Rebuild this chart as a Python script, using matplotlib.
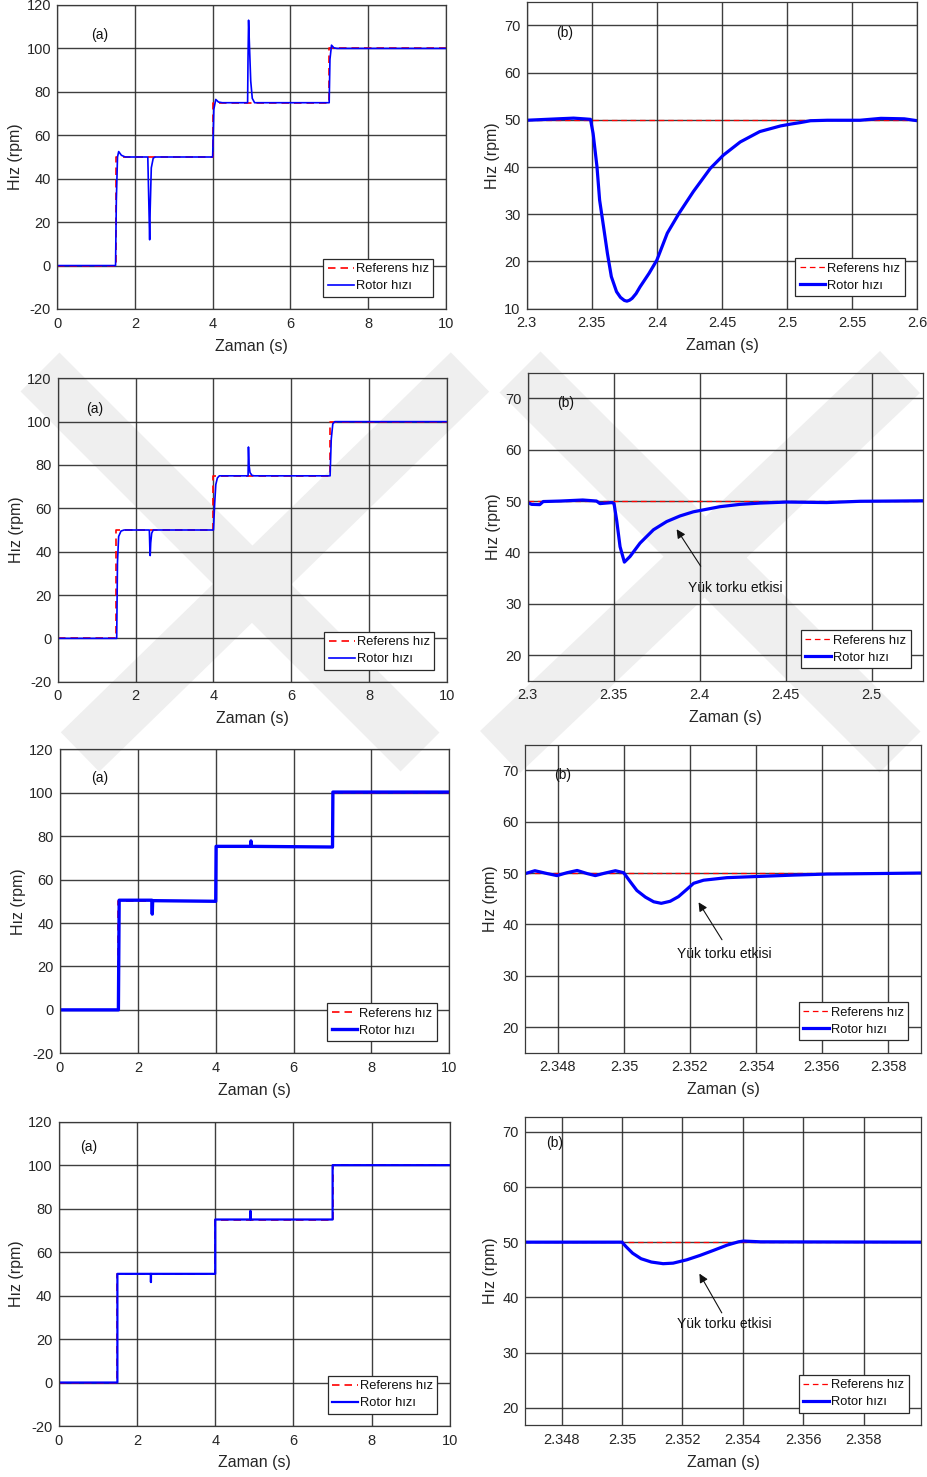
import matplotlib
matplotlib.use("Agg")
import matplotlib.pyplot as plt
import numpy as np
from matplotlib.patches import Polygon

plt.rcParams["font.family"] = ["Liberation Sans", "DejaVu Sans"]

# ---------------------------------------------------------------- data
# Reference speed profile (rpm), shared by all four full-run panels
ref_t = [0.0, 1.5, 1.5, 4.0, 4.0, 7.0, 7.0, 10.0]
ref_v = [0.0, 0.0, 50.0, 50.0, 75.0, 75.0, 100.0, 100.0]

# Row 1 - full run
r1a_t = [0.0, 1.50, 1.52, 1.55, 1.58, 1.65, 1.75, 2.33, 2.355, 2.378, 2.39, 2.42,
         2.47, 2.52, 4.00, 4.03, 4.08, 4.15, 4.25, 4.90, 4.91, 4.925, 4.95, 4.98,
         5.02, 5.08, 7.00, 7.02, 7.06, 7.12, 7.20, 10.0]
r1a_v = [0.0, 0.0, 30.0, 50.0, 52.5, 50.8, 50.0, 50.0, 30.0, 11.9, 25.0, 45.0,
         49.5, 50.0, 50.0, 72.0, 76.5, 75.3, 75.0, 75.0, 95.0, 113.0, 100.0, 85.0,
         77.0, 75.0, 75.0, 95.0, 101.5, 100.3, 100.0, 100.0]

# Row 1 - zoom on the load-torque disturbance
r1b_t = [2.300, 2.336, 2.349, 2.351, 2.354, 2.356, 2.359, 2.362, 2.365, 2.369,
         2.372, 2.375, 2.377, 2.379, 2.381, 2.384, 2.387, 2.394, 2.400, 2.408,
         2.417, 2.428, 2.441, 2.451, 2.464, 2.479, 2.495, 2.503, 2.510, 2.518,
         2.531, 2.556, 2.572, 2.590, 2.600]
r1b_v = [49.9, 50.35, 50.1, 47.1, 40.0, 33.0, 27.4, 21.7, 16.8, 13.6,
         12.4, 11.75, 11.6, 11.8, 12.2, 13.2, 14.6, 17.5, 20.3, 26.0,
         30.2, 34.8, 39.7, 42.5, 45.3, 47.5, 48.7, 49.1, 49.4, 49.8,
         49.9, 49.9, 50.3, 50.2, 49.8]

# Row 2
r2a_t = [0.0, 1.51, 1.53, 1.56, 1.62, 1.70, 2.35, 2.365, 2.372, 2.385, 2.41, 2.45,
         4.00, 4.03, 4.06, 4.10, 4.15, 4.89, 4.90, 4.915, 4.94, 4.99, 5.05,
         7.00, 7.03, 7.07, 7.12, 10.0]
r2a_v = [0.0, 0.0, 35.0, 47.0, 49.5, 50.0, 50.0, 40.0, 38.2, 44.0, 48.5, 50.0,
         50.0, 62.0, 71.0, 74.0, 75.0, 75.0, 88.3, 80.0, 76.5, 75.2, 75.0,
         75.0, 92.0, 99.0, 100.0, 100.0]

r2b_t = [2.3000, 2.3023, 2.3070, 2.3090, 2.3190, 2.3320, 2.3400, 2.3420, 2.3490,
         2.3502, 2.3517, 2.3537, 2.3562, 2.3595, 2.3653, 2.3731, 2.3808, 2.3886,
         2.3963, 2.4040, 2.4118, 2.4234, 2.4350, 2.4506, 2.4738, 2.4932, 2.5126,
         2.5300]
r2b_v = [49.7, 49.35, 49.3, 49.9, 50.0, 50.2, 50.0, 49.5, 49.7,
         49.5, 46.3, 41.1, 38.1, 39.2, 41.8, 44.4, 46.0, 47.1,
         47.9, 48.4, 48.9, 49.35, 49.6, 49.8, 49.7, 49.95, 50.0,
         50.05]

# Row 3
r3a_t = [0.0, 1.50, 1.52, 2.36, 2.37, 2.38, 4.00, 4.01, 4.90, 4.905, 4.91,
         7.00, 7.01, 10.0]
r3a_v = [0.0, 0.0, 50.5, 50.5, 44.1, 50.3, 50.0, 75.3, 75.3, 77.8, 75.3,
         75.0, 100.3, 100.3]

r3b_t = [2.34701, 2.34730, 2.34767, 2.34797, 2.34827, 2.34858, 2.34888, 2.34913,
         2.34943, 2.34974, 2.34999, 2.35019, 2.35039, 2.35065, 2.35090, 2.35113,
         2.35140, 2.35165, 2.35190, 2.35211, 2.35241, 2.35312, 2.35413, 2.35514,
         2.35615, 2.35767, 2.35900]
r3b_v = [49.9, 50.45, 49.9, 49.5, 50.06, 50.5, 49.9, 49.5,
         50.0, 50.45, 50.06, 48.3, 46.6, 45.3, 44.4, 44.1,
         44.5, 45.4, 46.8, 48.0, 48.6, 49.1, 49.35, 49.6,
         49.8, 49.9, 50.0]

# Row 4
r4a_t = [0.0, 1.50, 1.50, 2.357, 2.357, 2.358, 4.00, 4.00, 4.90, 4.90, 4.905,
         7.00, 7.00, 10.0]
r4a_v = [0.0, 0.0, 50.0, 50.0, 46.2, 50.0, 50.0, 75.0, 75.0, 79.0, 75.0,
         75.0, 100.0, 100.0]

r4b_t = [2.3468, 2.35000, 2.35013, 2.35035, 2.35063, 2.35097, 2.35136, 2.35169,
         2.35214, 2.35258, 2.35302, 2.35347, 2.35385, 2.35402, 2.35458, 2.3600]
r4b_v = [50.0, 50.0, 49.2, 48.0, 47.0, 46.4, 46.1, 46.2,
         46.8, 47.6, 48.5, 49.45, 50.06, 50.2, 50.06, 50.0]

# Tick positions and labels
full_xticks = [0, 2, 4, 6, 8, 10]
full_xlabels = ["0", "2", "4", "6", "8", "10"]
full_yticks = [-20, 0, 20, 40, 60, 80, 100, 120]
full_ylabels = ["-20", "0", "20", "40", "60", "80", "100", "120"]

b1_xticks = [2.3, 2.35, 2.4, 2.45, 2.5, 2.55, 2.6]
b1_xlabels = ["2.3", "2.35", "2.4", "2.45", "2.5", "2.55", "2.6"]
b1_yticks = [10, 20, 30, 40, 50, 60, 70]
b1_ylabels = ["10", "20", "30", "40", "50", "60", "70"]

b2_xticks = [2.3, 2.35, 2.4, 2.45, 2.5]
b2_xlabels = ["2.3", "2.35", "2.4", "2.45", "2.5"]
bz_yticks = [20, 30, 40, 50, 60, 70]
bz_ylabels = ["20", "30", "40", "50", "60", "70"]

b34_xticks = [2.348, 2.350, 2.352, 2.354, 2.356, 2.358]
b34_xlabels = ["2.348", "2.35", "2.352", "2.354", "2.356", "2.358"]

legend_labels = ["Referens hız", "Rotor hızı"]
note_text = "Yük torku etkisi"

# ---------------------------------------------------------------- figure
W, H = 928, 1477
fig = plt.figure(figsize=(W / 100, H / 100), dpi=100, facecolor="white")

TXT = "#262626"
GRID = "#2a2a2a"


def add_ax(x0, y0, x1, y1):
    ax = fig.add_axes([x0 / W, 1 - y1 / H, (x1 - x0) / W, (y1 - y0) / H])
    ax.set_facecolor("none")
    return ax


def style(ax, box, xlim, ylim, xt, xl, yt, yl, ylab_off):
    x0, y0, x1, y1 = box
    ax.set_xlim(*xlim)
    ax.set_ylim(*ylim)
    ax.set_xticks(xt)
    ax.set_xticklabels(xl)
    ax.set_yticks(yt)
    ax.set_yticklabels(yl)
    ax.tick_params(axis="x", direction="in", length=0, pad=5.5,
                   labelsize=10.5, labelcolor=TXT)
    ax.tick_params(axis="y", direction="in", length=0, pad=4.5,
                   labelsize=10.5, labelcolor=TXT)
    ax.grid(True, color=GRID, lw=1.0, alpha=0.9)
    ax.set_axisbelow(True)
    for s in ax.spines.values():
        s.set_color("#3a3a3a")
        s.set_linewidth(0.9)
    ax.set_xlabel("Zaman (s)", fontsize=11.5, color=TXT, va="center")
    ax.set_ylabel("Hız (rpm)", fontsize=11.5, color=TXT, va="center")
    ax.xaxis.set_label_coords(0.5, -37 / (y1 - y0))
    ax.yaxis.set_label_coords(-ylab_off / (x1 - x0), 0.5)


def legend(ax):
    leg = ax.legend(legend_labels, loc="lower right", bbox_to_anchor=(0.968, 0.04),
                    borderaxespad=0, fontsize=9.3, handlelength=2.0,
                    handletextpad=0.15, borderpad=0.35, labelspacing=0.38,
                    fancybox=False, framealpha=1, edgecolor="#2a2a2a")
    leg.get_frame().set_linewidth(0.9)
    for t in leg.get_texts():
        t.set_color("#111111")


DASH = (0, (4.5, 3))


def full_panel(box, t, v, lw, label_xy):
    ax = add_ax(*box)
    ax.plot(ref_t, ref_v, color="#ff0000", ls=DASH, lw=1.2)
    ax.plot(t, v, color="#0000ff", lw=lw)
    style(ax, box, (0, 10), (-20, 120), full_xticks, full_xlabels,
          full_yticks, full_ylabels, 42)
    ax.text(*label_xy, "(a)", fontsize=10, color="#111111", ha="center", va="center")
    legend(ax)
    return ax


def zoom_panel(box, t, v, xlim, ylim, xt, xl, yt, yl, label_xy):
    ax = add_ax(*box)
    ax.plot(list(xlim), [50, 50], color="#ff0000", ls=DASH, lw=0.9)
    ax.plot(t, v, color="#0000ff", lw=2.3)
    style(ax, box, xlim, ylim, xt, xl, yt, yl, 34.5)
    ax.text(*label_xy, "(b)", fontsize=10, color="#111111", ha="center", va="center")
    legend(ax)
    return ax


def note(ax, tail, head, text_xy, ha="center"):
    ax.annotate("", xy=head, xytext=tail,
                arrowprops=dict(arrowstyle="-|>", color="#111111", lw=0.8,
                                mutation_scale=13, shrinkA=0, shrinkB=0))
    ax.text(*text_xy, note_text, fontsize=10, color="#111111", ha=ha, va="center")


# Row 1
full_panel((57.3, 5.0, 445.7, 309.0), r1a_t, r1a_v, 1.2, (1.1, 106.2))
zoom_panel((526.7, 1.7, 917.3, 308.7), r1b_t, r1b_v, (2.3, 2.6), (10, 75),
           b1_xticks, b1_xlabels, b1_yticks, b1_ylabels, (2.3289, 68.4))

# Row 2
full_panel((58.0, 378.3, 446.7, 681.7), r2a_t, r2a_v, 1.2, (0.95, 105.7))
ax2b = zoom_panel((527.7, 372.7, 923.3, 680.7), r2b_t, r2b_v, (2.3, 2.53), (15, 75),
                  b2_xticks, b2_xlabels, bz_yticks, bz_ylabels, (2.3219, 69.0))
note(ax2b, (2.4006, 37.3), (2.3866, 44.5), (2.393, 33.0), ha="left")

# Row 3
full_panel((60.0, 749.3, 449.3, 1053.3), r3a_t, r3a_v, 2.4, (1.01, 106.6))
ax3b = zoom_panel((525.0, 744.7, 921.0, 1052.7), r3b_t, r3b_v, (2.347, 2.359), (15, 75),
                  b34_xticks, b34_xlabels, bz_yticks, bz_ylabels, (2.34813, 69.0))
note(ax3b, (2.35297, 37.0), (2.35226, 44.3), (2.35304, 34.3))

# Row 4
full_panel((58.7, 1121.7, 450.0, 1426.0), r4a_t, r4a_v, 1.6, (0.756, 108.5))
ax4b = zoom_panel((525.3, 1117.3, 921.3, 1425.0), r4b_t, r4b_v, (2.3468, 2.3599), (16.9, 72.6),
                  b34_xticks, b34_xlabels, bz_yticks, bz_ylabels, (2.34776, 67.9))
note(ax4b, (2.3533, 37.2), (2.35256, 44.3), (2.35338, 35.2))


# Faint crossed-band emblem printed behind the second row
def band(p, q, width):
    p = np.array(p, float)
    q = np.array(q, float)
    d = q - p
    n = np.array([-d[1], d[0]]) / np.hypot(*d) * width / 2
    pts = np.array([p + n, q + n, q - n, p - n])
    pts[:, 0] /= W
    pts[:, 1] = 1 - pts[:, 1] / H
    fig.add_artist(Polygon(pts, closed=True, transform=fig.transFigure,
                           facecolor="#efefef", edgecolor="none", zorder=-5))


band((40, 372), (420, 752), 55)
band((470, 372), (80, 752), 55)
band((520, 372), (900, 752), 58)
band((900, 372), (500, 752), 58)

fig.savefig("out.png", dpi=100, facecolor="white")
